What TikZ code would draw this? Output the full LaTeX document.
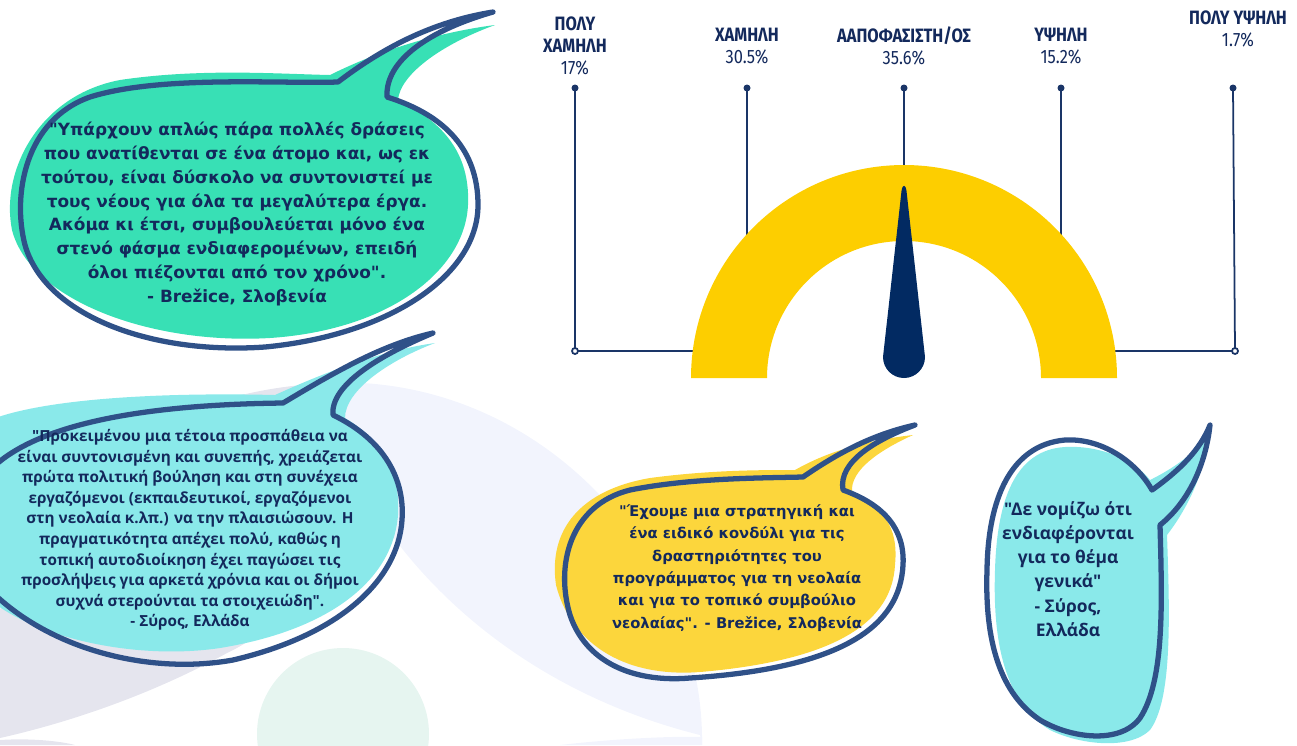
\documentclass[tikz,border=0pt]{standalone}
\usepackage{fontspec}
\setmainfont{Fira Sans}[Ligatures=TeXOff]
\newfontfamily\opensans{Open Sans}[Ligatures=TeXOff]
\newfontfamily\roundsans{DejaVu Sans}[Ligatures=TeXOff]
\newfontfamily\gaugefont{Fira Sans}[FakeStretch=0.85]

\definecolor{inknavy}{HTML}{13295C}
\definecolor{rimnavy}{HTML}{2F5188}
\definecolor{linenavy}{HTML}{1A3567}
\definecolor{needlenavy}{HTML}{022A62}
\definecolor{gaugeyellow}{HTML}{FDCE00}
\definecolor{mintfill}{HTML}{38E0B5}
\definecolor{aquafill}{HTML}{8AE9EA}
\definecolor{sunfill}{HTML}{FCD63C}
\definecolor{greyback}{HTML}{E5E5EE}
\definecolor{lilacback}{HTML}{F2F4FD}
\definecolor{mintback}{HTML}{E6F5F0}

\tikzset{
  rim/.style={draw=rimnavy, line width=3pt, line join=round},
  pin/.style={draw=linenavy, line width=1pt},
  level/.style={align=center, text=inknavy, inner sep=0pt,
    font=\gaugefont\fontsize{11}{12.5}\selectfont},
  quote/.style={align=center, text=inknavy, inner sep=0pt},
}

\begin{document}
\begin{tikzpicture}[x=0.02cm, y=-0.02cm]
\useasboundingbox (0,0) rectangle (1297,745);
\clip (0,0) rectangle (1297,745);

% background
\fill[greyback] (0,610) .. controls (40,480) and (160,390) .. (330,383)
  .. controls (360,480) and (320,610) .. (227,653)
  .. controls (160,690) and (80,720) .. (0,738) -- cycle;
\fill[greyback] (0,740) .. controls (30,738) and (60,741) .. (75,745) -- (0,745) -- cycle;
\fill[lilacback] (320,383) .. controls (540,370) and (705,560) .. (702,745)
  -- (700,735) .. controls (480,680) and (350,520) .. (320,383) -- cycle;
\fill[lilacback] (560,745) .. controls (620,738) and (680,736) .. (702,737) -- (702,745) -- cycle;
\fill[mintback] (343,734) circle[radius=86];

% gauge
\foreach \name/\x in {vlow/575, low/747, mid/904, high/1061, vhigh/1233}
  \coordinate (\name pin) at (\x,88);
\coordinate (vlowfoot) at (575,351);
\coordinate (vhighfoot) at (1235,351);
\coordinate (lowfoot) at (747,300);
\coordinate (midfoot) at (904,175);
\coordinate (highfoot) at (1061,300);
\coordinate (arcleft) at (700,351);
\coordinate (arcright) at (1110,351);

\begin{scope}[pin]
\draw (vlowpin) -- (vlowfoot) -- (arcleft);
\draw (vhighpin) -- (vhighfoot) -- (arcright);
\draw (lowpin) -- (lowfoot);
\draw (midpin) -- (midfoot);
\draw (highpin) -- (highfoot);
\end{scope}
\foreach \name in {vlow, low, mid, high, vhigh}
  \fill[linenavy] (\name pin) circle[radius=3.5];
\draw[pin, fill=white] (vlowfoot) circle[radius=3];
\draw[pin, fill=white] (vhighfoot) circle[radius=3];

\fill[gaugeyellow] (691,378) arc[start angle=180, end angle=360, radius=213]
  -- (1041,378) arc[start angle=0, end angle=-180, radius=137] -- cycle;
\fill[needlenavy] (901.5,191) .. controls (902.5,184) and (905.5,184) .. (906.5,191)
  -- (925,357) arc[start angle=0, end angle=180, radius=21] -- cycle;

\node[level] (vlow) at (575,46) {\textbf{ΠΟΛΥ}\\\textbf{ΧΑΜΗΛΗ}\\17\%};
\node[level] (low) at (747,46) {\textbf{ΧΑΜΗΛΗ}\\30.5\%};
\node[level] (mid) at (904,46) {\textbf{ΑΑΠΟΦΑΣΙΣΤΗ/ΟΣ}\\35.6\%};
\node[level] (high) at (1061,46) {\textbf{ΥΨΗΛΗ}\\15.2\%};
\node[level] (vhigh) at (1238,29) {\textbf{ΠΟΛΥ ΥΨΗΛΗ}\\1.7\%};

% bubble Brezice (green)
\fill[mintfill] (330,75) .. controls (380,50) and (440,32) .. (495,25)
  .. controls (440,45) and (400,75) .. (398,100)
  .. controls (450,125) and (470,160) .. (468,205)
  .. controls (465,270) and (390,330) .. (270,338)
  .. controls (150,345) and (30,300) .. (12,230)
  .. controls (0,170) and (40,95) .. (120,80)
  .. controls (200,68) and (280,74) .. (330,75) -- cycle;
\draw[rim] (338,82) .. controls (380,50) and (430,22) .. (493,12)
  .. controls (430,30) and (385,60) .. (387,97)
  .. controls (445,115) and (478,150) .. (478,205)
  .. controls (478,275) and (390,335) .. (265,347)
  .. controls (150,355) and (45,315) .. (25,245)
  .. controls (12,195) and (25,120) .. (90,97)
  .. controls (160,75) and (280,84) .. (338,82) -- cycle;
\node[quote, font=\roundsans\bfseries\fontsize{9.6}{13.6}\selectfont] (brezice) at (237,214)
  {"Υπάρχουν απλώς πάρα πολλές δράσεις\\
   που ανατίθενται σε ένα άτομο και, ως εκ\\
   τούτου, είναι δύσκολο να συντονιστεί με\\
   τους νέους για όλα τα μεγαλύτερα έργα.\\
   Ακόμα κι έτσι, συμβουλεύεται μόνο ένα\\
   στενό φάσμα ενδιαφερομένων, επειδή\\
   όλοι πιέζονται από τον χρόνο".\\
   - Brežice, Σλοβενία};

% bubble Syros (aqua, left)
\fill[aquafill] (275,395) .. controls (330,370) and (385,350) .. (435,343)
  .. controls (390,360) and (345,390) .. (345,418)
  .. controls (390,445) and (400,480) .. (398,515)
  .. controls (393,580) and (330,630) .. (220,648)
  .. controls (140,660) and (40,640) .. (-10,600)
  -- (-10,420) .. controls (40,400) and (150,392) .. (275,395) -- cycle;
\draw[rim] (283,403) .. controls (330,375) and (380,345) .. (433,333)
  .. controls (380,355) and (330,385) .. (333,415)
  .. controls (385,440) and (405,480) .. (402,520)
  .. controls (398,580) and (340,635) .. (233,660)
  .. controls (150,675) and (50,650) .. (-10,590)
  -- (-10,470) .. controls (30,430) and (120,405) .. (283,403) -- cycle;
\node[quote, font=\opensans\bfseries\fontsize{8.7}{11.7}\selectfont] (syros) at (190,530)
  {"Προκειμένου μια τέτοια προσπάθεια να\\
   είναι συντονισμένη και συνεπής, χρειάζεται\\
   πρώτα πολιτική βούληση και στη συνέχεια\\
   εργαζόμενοι (εκπαιδευτικοί, εργαζόμενοι\\
   στη νεολαία κ.λπ.) να την πλαισιώσουν. Η\\
   πραγματικότητα απέχει πολύ, καθώς η\\
   τοπική αυτοδιοίκηση έχει παγώσει τις\\
   προσλήψεις για αρκετά χρόνια και οι δήμοι\\
   συχνά στερούνται τα στοιχειώδη".\\
   - Σύρος, Ελλάδα};

% bubble Brezice (yellow)
\fill[sunfill] (795,470) .. controls (830,450) and (870,440) .. (913,435)
  .. controls (880,450) and (850,470) .. (852,492)
  .. controls (890,510) and (898,535) .. (895,565)
  .. controls (892,620) and (840,660) .. (700,672)
  .. controls (620,678) and (570,640) .. (556,585)
  .. controls (548,530) and (580,490) .. (650,478)
  .. controls (710,470) and (760,470) .. (795,470) -- cycle;
\draw[rim] (803,477) .. controls (835,455) and (870,435) .. (915,425)
  .. controls (875,440) and (838,462) .. (843,490)
  .. controls (885,505) and (905,530) .. (903,565)
  .. controls (900,625) and (845,668) .. (690,678)
  .. controls (630,683) and (585,660) .. (570,615)
  .. controls (555,565) and (570,505) .. (630,490)
  .. controls (690,478) and (760,478) .. (803,477) -- cycle;
\node[quote, font=\roundsans\bfseries\fontsize{8.4}{12.7}\selectfont] (fund) at (737,568)
  {"Έχουμε μια στρατηγική και\\
   ένα ειδικό κονδύλι για τις\\
   δραστηριότητες του\\
   προγράμματος για τη νεολαία\\
   και για το τοπικό συμβούλιο\\
   νεολαίας". - Brežice, Σλοβενία};

% bubble Syros (aqua, right)
\fill[aquafill] (1150,480) .. controls (1180,465) and (1198,450) .. (1210,430)
  .. controls (1205,470) and (1190,505) .. (1167,535)
  .. controls (1170,620) and (1172,700) .. (1150,730)
  .. controls (1130,750) and (1080,745) .. (1050,730)
  .. controls (1000,700) and (993,630) .. (995,570)
  .. controls (997,500) and (1015,450) .. (1065,447)
  .. controls (1100,445) and (1135,460) .. (1150,480) -- cycle;
\draw[rim] (1152,490) .. controls (1180,470) and (1200,450) .. (1210,425)
  .. controls (1205,470) and (1185,505) .. (1160,525)
  .. controls (1162,600) and (1165,680) .. (1140,718)
  .. controls (1120,745) and (1070,738) .. (1040,720)
  .. controls (995,690) and (985,630) .. (987,570)
  .. controls (988,500) and (1010,445) .. (1065,440)
  .. controls (1100,438) and (1135,460) .. (1152,490) -- cycle;
\node[quote, font=\opensans\bfseries\fontsize{9.9}{13.8}\selectfont] (topic) at (1068,569)
  {"Δε νομίζω ότι\\
   ενδιαφέρονται\\
   για το θέμα\\
   γενικά"\\
   - Σύρος,\\
   Ελλάδα};

\end{tikzpicture}
\end{document}
